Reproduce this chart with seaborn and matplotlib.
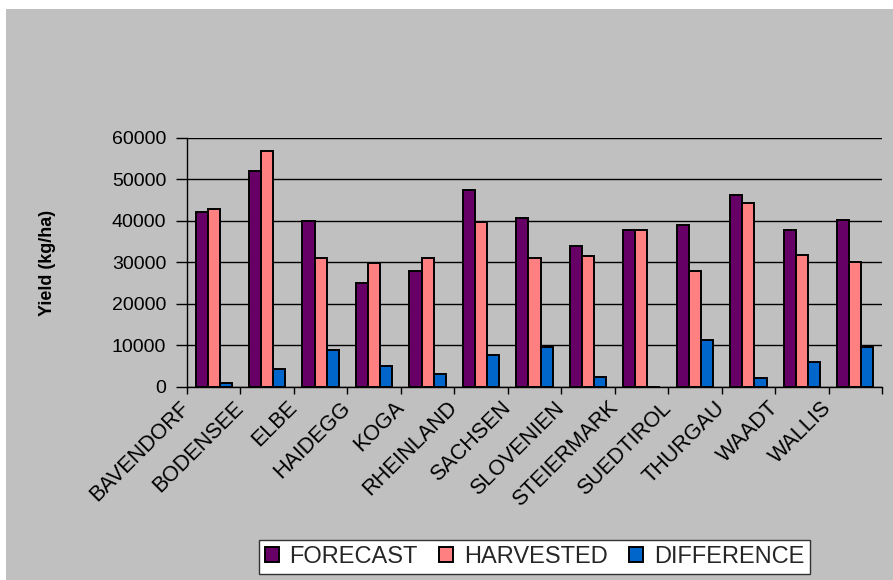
import numpy as np
import pandas as pd
import matplotlib
matplotlib.use("Agg")
import matplotlib.pyplot as plt
from matplotlib.patches import Rectangle
import seaborn as sns

# Yield per site (kg/ha)
sites = ["BAVENDORF", "BODENSEE", "ELBE", "HAIDEGG", "KOGA", "RHEINLAND", "SACHSEN",
         "SLOVENIEN", "STEIERMARK", "SUEDTIROL", "THURGAU", "WAADT", "WALLIS"]
forecast = [42000, 52000, 40000, 25000, 27800, 47500, 40600, 33800, 37800, 39000, 46300, 37800, 40200]
harvested = [42700, 56700, 31000, 29800, 31000, 39800, 30900, 31400, 37800, 27800, 44200, 31800, 30100]
difference = [800, 4300, 8800, 5100, 3100, 7600, 9600, 2400, 0, 11200, 2000, 6000, 9600]
series = ["FORECAST", "HARVESTED", "DIFFERENCE"]
colors = ["#660066", "#FF8080", "#0066CC"]
y_ticks = [0, 10000, 20000, 30000, 40000, 50000, 60000]

df = pd.DataFrame({
    "site": sites * 3,
    "series": [series[0]] * len(sites) + [series[1]] * len(sites) + [series[2]] * len(sites),
    "yield": forecast + harvested + difference,
})

sns.set_theme(style="white")
plt.rcParams["font.family"] = ["Liberation Sans", "DejaVu Sans"]

W, H = 893, 580
fig = plt.figure(figsize=(W / 100, H / 100), dpi=100, facecolor="white")
fig.patches.append(Rectangle((6 / W, 0), 1, 1 - 9 / H, transform=fig.transFigure,
                             facecolor="#C0C0C0", edgecolor="none", zorder=-10))

ax = fig.add_axes([187 / W, 193.3 / H, (882 - 187) / W, (386.7 - 137.7) / H])
ax.patch.set_visible(False)

sns.barplot(data=df, x="site", y="yield", hue="series", order=sites, hue_order=series,
            palette=colors, width=0.68, edgecolor="black", linewidth=1.4,
            saturation=1, ax=ax, legend=True, zorder=3)

ax.set_xlim(-0.5, len(sites) - 0.5)
ax.set_ylim(0, 60000)
ax.set_yticks(y_ticks)
ax.set_yticklabels([str(v) for v in y_ticks], fontsize=14, color="black")
ax.yaxis.grid(True, color="black", linewidth=1.0, zorder=0)
ax.set_axisbelow(True)

# category labels sit on the boundary ticks
ax.set_xticks(np.arange(-0.5, len(sites), 1.0))
ax.set_xticklabels(sites + [""], rotation=45, ha="right", va="center",
                   rotation_mode="anchor", fontsize=15.5, color="black")
ax.tick_params(axis="x", direction="out", length=5, width=1, color="black", pad=8, bottom=True)
ax.tick_params(axis="y", direction="out", length=8, width=1, color="black", pad=7, left=True)

for s in ["top", "right"]:
    ax.spines[s].set_visible(False)
for s in ["left", "bottom"]:
    ax.spines[s].set_color("black")
    ax.spines[s].set_linewidth(1.0)
    ax.spines[s].set_zorder(4)

ax.set_xlabel("")
ax.set_ylabel("")
fig.text(47 / W, 1 - 263 / H, "Yield (kg/ha)", rotation=90, ha="center", va="center",
         fontsize=13, fontweight="bold", color="black")

handles, labels = ax.get_legend_handles_labels()
ax.get_legend().remove()
leg = fig.legend(handles, labels, loc="center", ncol=3,
                 bbox_to_anchor=(534.5 / W, 1 - 557 / H),
                 bbox_transform=fig.transFigure, fontsize=17, frameon=True,
                 fancybox=False, framealpha=1, edgecolor="#333333",
                 handlelength=0.6, handleheight=0.6, handletextpad=0.45,
                 columnspacing=0.9, borderpad=0.25, borderaxespad=0)
leg.get_frame().set_linewidth(1.0)
for h in leg.legend_handles:
    h.set_edgecolor("black")
    h.set_linewidth(1.4)

fig.savefig("out.png", dpi=100, facecolor=fig.get_facecolor())
